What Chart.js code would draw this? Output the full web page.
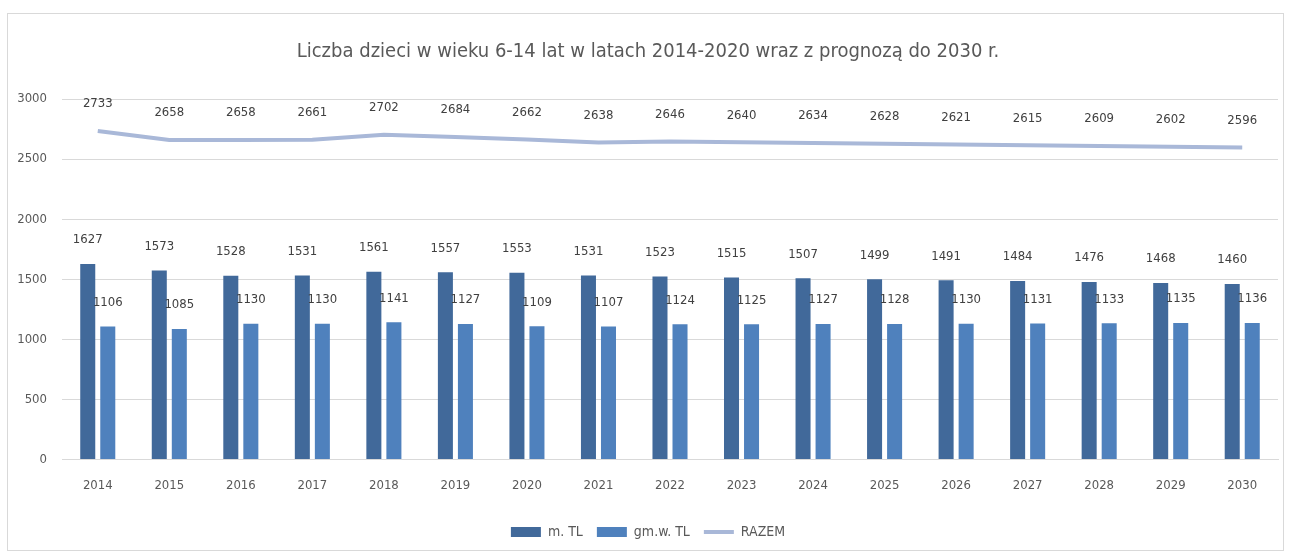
<!DOCTYPE html>
<html>
<head>
<meta charset="utf-8">
<script src="https://cdn.jsdelivr.net/npm/chart.js@4"></script>
<style>
  body { margin: 0; background: #fff; }
  #box { position: absolute; left: 7px; top: 13px; width: 1277px; height: 538px; border: 1px solid #d9d9d9; box-sizing: border-box; }
</style>
</head>
<body>
<div id="box"><canvas id="myChart"></canvas></div>
<script>
const years = ["2014", "2015", "2016", "2017", "2018", "2019", "2020", "2021", "2022", "2023", "2024", "2025", "2026", "2027", "2028", "2029", "2030"]
const miastoTL = [1627, 1573, 1528, 1531, 1561, 1557, 1553, 1531, 1523, 1515, 1507, 1499, 1491, 1484, 1476, 1468, 1460]
const gminaTL = [1106, 1085, 1130, 1130, 1141, 1127, 1109, 1107, 1124, 1125, 1127, 1128, 1130, 1131, 1133, 1135, 1136]
const razem = [2733, 2658, 2658, 2661, 2702, 2684, 2662, 2638, 2646, 2640, 2634, 2628, 2621, 2615, 2609, 2602, 2596]
const yTicks = [0, 500, 1000, 1500, 2000, 2500, 3000]

const fontName = "'Liberation Sans Narrow', 'DejaVu Sans Condensed', sans-serif"

// simple value labels above every mark
const valueLabels = {
  id: "valueLabels",
  afterDatasetsDraw(chart) {
    const ctx = chart.ctx
    ctx.save()
    ctx.font = "13px " + fontName
    ctx.fillStyle = "#404040"
    ctx.textAlign = "center"
    ctx.textBaseline = "middle"
    chart.data.datasets.forEach((ds, i) => {
      const meta = chart.getDatasetMeta(i)
      const off = ds.type === "line" ? 27 : 24
      meta.data.forEach((el, j) => {
        ctx.fillText(ds.data[j], el.x, el.y - off)
      })
    })
    ctx.restore()
  }
}

const box = document.getElementById("box")
const canvas = document.getElementById("myChart")
canvas.width = box.clientWidth
canvas.height = box.clientHeight

new Chart(canvas, {
  data: {
    labels: years,
    datasets: [
      {
        type: "line",
        label: "RAZEM",
        data: razem,
        borderColor: "#a9b8d8",
        backgroundColor: "#a9b8d8",
        borderWidth: 4,
        pointRadius: 0,
        tension: 0,
        order: 0
      },
      {
        type: "bar",
        label: "m. TL",
        data: miastoTL,
        backgroundColor: "#41699a",
        categoryPercentage: 0.56,
        barPercentage: 0.75,
        order: 1
      },
      {
        type: "bar",
        label: "gm.w. TL",
        data: gminaTL,
        backgroundColor: "#4f81bd",
        categoryPercentage: 0.56,
        barPercentage: 0.75,
        order: 1
      }
    ]
  },
  options: {
    responsive: false,
    animation: false,
    layout: { padding: { left: 10, right: 5, top: 10, bottom: 1 } },
    plugins: {
      title: {
        display: true,
        text: "Liczba dzieci w wieku 6-14 lat w latach 2014-2020 wraz z prognozą do 2030 r.",
        color: "#595959",
        font: { family: fontName, size: 20, weight: "normal" },
        padding: { top: 16, bottom: 35 }
      },
      legend: {
        position: "bottom",
        labels: {
          sort: (a, b) => (a.datasetIndex === 0) - (b.datasetIndex === 0),
          generateLabels(chart) {
            const items = Chart.defaults.plugins.legend.labels.generateLabels(chart)
            items.forEach(it => {
              it.pointStyle = it.datasetIndex === 0 ? "line" : "rect"
              if (it.datasetIndex !== 0) it.lineWidth = 0
            })
            return items
          },
          usePointStyle: true,
          pointStyleWidth: 30,
          boxHeight: 10,
          padding: 14,
          color: "#595959",
          font: { family: fontName, size: 14 }
        }
      },
      tooltip: { enabled: false }
    },
    scales: {
      x: {
        grid: { display: false },
        border: { color: "#d9d9d9" },
        afterFit(axis) { axis.height += 8 },
        ticks: { color: "#595959", padding: 10, font: { family: fontName, size: 13 } }
      },
      y: {
        min: 0,
        max: 3000,
        afterBuildTicks(axis) { axis.ticks = yTicks.map(v => ({ value: v })) },
        afterFit(axis) { axis.width = 44 },
        grid: { color: "#d9d9d9", drawTicks: false },
        border: { display: false },
        ticks: {
          color: "#595959",
          padding: 15,
          font: { family: fontName, size: 13 },
          callback: v => String(v)
        }
      }
    }
  },
  plugins: [valueLabels]
})
</script>
</body>
</html>
